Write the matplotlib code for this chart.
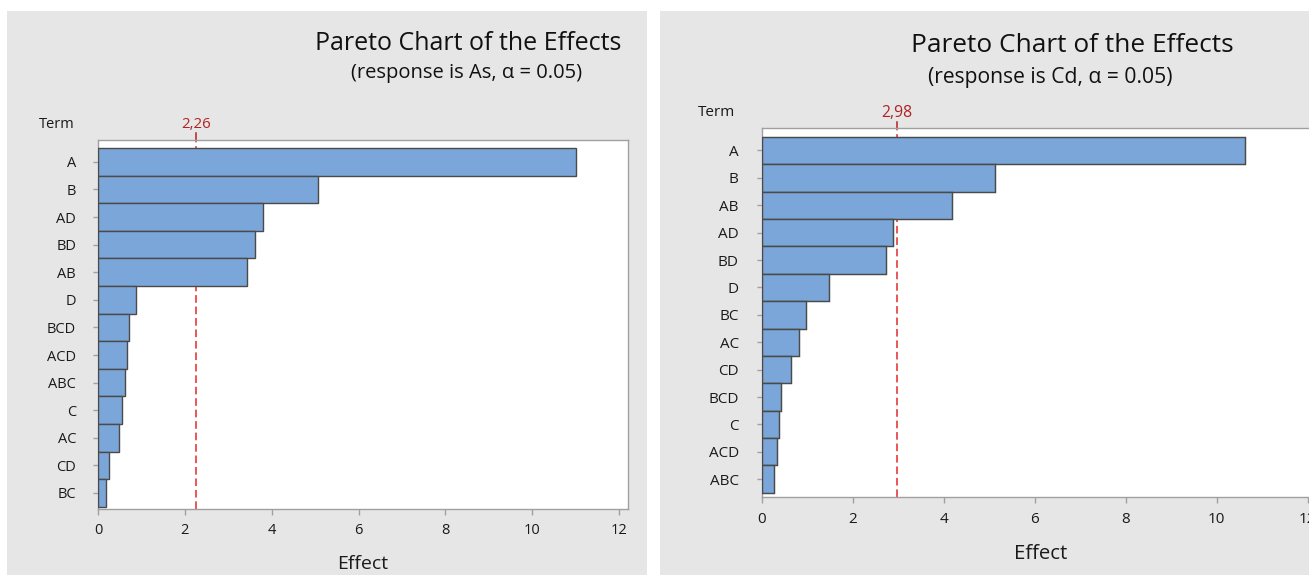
import matplotlib
matplotlib.use("Agg")
import matplotlib.pyplot as plt
from matplotlib.patches import Rectangle
import matplotlib.transforms as mtransforms

plt.rcParams['font.family'] = ['Open Sans', 'DejaVu Sans']

# Standardized effects, largest first
terms_as = ["A", "B", "AD", "BD", "AB", "D", "BCD", "ACD", "ABC", "C", "AC", "CD", "BC"]
effects_as = [11.0, 5.06, 3.80, 3.61, 3.43, 0.88, 0.72, 0.66, 0.62, 0.55, 0.49, 0.26, 0.19]
crit_as = 2.26
crit_as_label = "2,26"

terms_cd = ["A", "B", "AB", "AD", "BD", "D", "BC", "AC", "CD", "BCD", "C", "ACD", "ABC"]
effects_cd = [10.62, 5.13, 4.19, 2.89, 2.74, 1.49, 0.97, 0.82, 0.64, 0.42, 0.38, 0.35, 0.28]
crit_cd = 2.98
crit_cd_label = "2,98"

x_ticks = [0, 2, 4, 6, 8, 10, 12]

W, H = 1309, 575
fig = plt.figure(figsize=(W / 100, H / 100), dpi=100)
fig.patch.set_facecolor("white")

BG = "#e6e6e6"
BAR = "#7ba6d9"
EDGE = "#4a4a4a"
RED = "#e02a2a"
LABEL_RED = "#b22222"
SPINE = "#a0a0a0"
TXT = "#1a1a1a"


def px_rect(x0, y0, x1, y1):
    return [x0 / W, (H - y1) / H, (x1 - x0) / W, (y1 - y0) / H]


# panel backgrounds
for x0, x1 in [(7, 647), (660, 1309)]:
    fig.patches.append(Rectangle((x0 / W, 0), (x1 - x0) / W, (H - 11) / H,
                                 transform=fig.transFigure, facecolor=BG,
                                 edgecolor="none", zorder=-10))


def pareto(rect, terms, effects, crit, crit_label, xmax, ylim, scale,
           title_xy, sub_xy, subtitle, term_xy):
    ax = fig.add_axes(rect)
    ax.set_zorder(1)
    ax.set_facecolor("white")
    n = len(terms)
    pos = list(range(n - 1, -1, -1))
    ax.barh(pos, effects, height=1.0, color=BAR, edgecolor=EDGE,
            linewidth=1.0 * scale, zorder=3)
    ax.axvline(crit, color=RED, linewidth=1.1, dashes=(5, 2.5), zorder=2)
    ax.set_xlim(0, xmax)
    ax.set_ylim(*ylim)
    ax.set_yticks(pos)
    ax.set_yticklabels(terms)
    ax.set_xticks(x_ticks)
    ax.tick_params(axis="y", length=3.3, width=1, color=SPINE, pad=12.5 * scale,
                   labelsize=10.5 * scale, labelcolor=TXT)
    ax.tick_params(axis="x", length=4.3, width=1, color=SPINE, pad=6 * scale,
                   labelsize=10.5 * scale, labelcolor=TXT)
    for s in ax.spines.values():
        s.set_color(SPINE)
        s.set_linewidth(1.0)
    ax.set_xlabel("Effect", fontsize=14 * scale, color=TXT, labelpad=12 * scale)

    # critical value marker above the frame
    trans = mtransforms.blended_transform_factory(ax.transData, ax.transAxes)
    ax.plot([crit, crit], [1.0, 1.018], color=LABEL_RED, linewidth=1.1,
            transform=trans, clip_on=False)
    ax.text(crit, 1.021, crit_label, transform=trans, ha="center", va="bottom",
            color=LABEL_RED, fontsize=10.8 * scale)

    fig.text(title_xy[0] / W, 1 - title_xy[1] / H, "Pareto Chart of the Effects",
             ha="center", va="center", fontsize=18 * scale, color="#111111")
    fig.text(sub_xy[0] / W, 1 - sub_xy[1] / H, subtitle,
             ha="center", va="center", fontsize=14.5 * scale, color="#111111")
    fig.text(term_xy[0] / W, 1 - term_xy[1] / H, "Term",
             ha="center", va="center", fontsize=10.5 * scale, color=TXT)
    return ax


# left panel: response As
pareto(px_rect(98, 139.5, 98 + 12.2 * 43.42, 509), terms_as, effects_as,
       crit_as, crit_as_label, 12.2, (-0.58, 12.81), 1.0,
       (468, 44), (467, 73), "(response is As, α = 0.05)", (56.5, 124))

# right panel: response Cd
pareto(px_rect(761.5, 128.3, 761.5 + 12.25 * 45.5, 497), terms_cd, effects_cd,
       crit_cd, crit_cd_label, 12.25, (-0.65, 12.81), 1.05,
       (1072, 45), (1050, 78), "(response is Cd, α = 0.05)", (716, 113))

fig.savefig("out.png", dpi=100, facecolor=fig.get_facecolor())
